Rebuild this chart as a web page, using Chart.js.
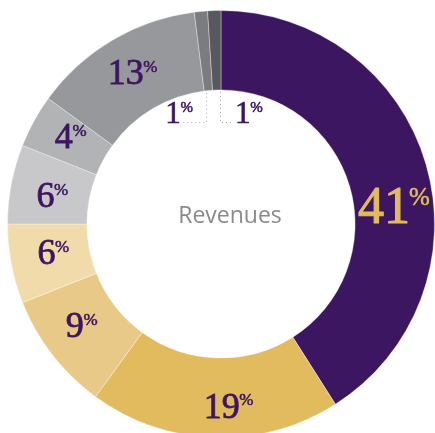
<!DOCTYPE html>
<html>
<head>
<meta charset="utf-8">
<script src="https://cdn.jsdelivr.net/npm/chart.js@4.4.1/dist/chart.umd.min.js"></script>
<style>
    html, body { margin: 0; padding: 0; background: #ffffff; overflow: hidden; width: 435px; height: 433px; }
    #wrap { position: absolute; left: 7px; top: 10px; width: 428px; height: 428px; }
</style>
</head>
<body>
<div id="wrap"><canvas id="revenue-chart" width="428" height="428"></canvas></div>
<script>
// Данные
const categories = ['Source 1', 'Source 2', 'Source 3', 'Source 4', 'Source 5', 'Source 6', 'Source 7', 'Source 8', 'Source 9'];
const shares = [41, 19, 9, 6, 6, 4, 13, 1, 1];
const centerTitle = 'Revenues';

// Оформление
const sliceColors = ['#3c1661', '#e2bb5f', '#e9c987', '#f1dbab', '#c8c8ca', '#b2b3b5', '#97989b', '#7b7c80', '#58595d'];
const labelColors = ['#e2bb5f', '#3c1661', '#3c1661', '#3c1661', '#3c1661', '#3c1661', '#3c1661', '#3c1661', '#3c1661'];
const labelSizes = [52, 36, 36, 36, 36, 36, 36, 31, 31];
const labelNudge = [[6, 30], [13, 8], [-2, -5], [3, -4], [2, 4], [2, -4], [0, -2], [0, 0], [0, 0]];
// выноски для маленьких долей (смещения от центра круга)
const callouts = {
    7: {vx: -15, hy: -102, hx: -38, tx: -41.5, align: 'right'},
    8: {vx: -1, hy: -102, hx: 11, tx: 14, align: 'left'}
};

const serif = '"Liberation Serif", "DejaVu Serif", serif';

function drawPercent(ctx, text, size, color, x, baseline, align) {
    const pctSize = Math.round(size * 0.48);
    ctx.font = size + 'px ' + serif;
    const w = ctx.measureText(text).width - size * 0.04;
    ctx.font = pctSize + 'px ' + serif;
    const pw = ctx.measureText('%').width;
    let left;
    if (align === 'right') left = x - w;
    else if (align === 'left') left = x;
    else left = x - (w + pw + 1) / 2;
    ctx.fillStyle = color;
    ctx.strokeStyle = color;
    ctx.lineJoin = 'round';
    ctx.textAlign = 'left';
    ctx.textBaseline = 'alphabetic';
    ctx.font = size + 'px ' + serif;
    ctx.lineWidth = size * 0.022;
    ctx.fillText(text, left, baseline);
    ctx.strokeText(text, left, baseline);
    ctx.font = pctSize + 'px ' + serif;
    ctx.lineWidth = 0.5;
    const py = baseline - size * 0.66 + pctSize * 0.66;
    ctx.fillText('%', left + w + 1, py);
    ctx.strokeText('%', left + w + 1, py);
}

const labelPlugin = {
    id: 'labelPlugin',
    afterDatasetsDraw(chart) {
        const ctx = chart.ctx;
        const arcs = chart.getDatasetMeta(0).data;
        ctx.save();
        arcs.forEach((arc, i) => {
            const p = arc.getProps(['x', 'y', 'startAngle', 'endAngle', 'innerRadius', 'outerRadius'], true);
            const size = labelSizes[i];
            const text = String(shares[i]);
            const c = callouts[i];
            if (c) {
                // пунктирная выноска
                const innerY = p.y - Math.sqrt(p.innerRadius * p.innerRadius - c.vx * c.vx);
                ctx.save();
                ctx.strokeStyle = '#a9a9ab';
                ctx.lineWidth = 1;
                ctx.setLineDash([1, 3]);
                ctx.beginPath();
                ctx.moveTo(p.x + c.vx + 0.5, innerY + 2);
                ctx.lineTo(p.x + c.vx + 0.5, p.y + c.hy + 0.5);
                ctx.lineTo(p.x + c.hx, p.y + c.hy + 0.5);
                ctx.stroke();
                ctx.restore();
                drawPercent(ctx, text, size, labelColors[i], p.x + c.tx, p.y + c.hy + 1, c.align);
                return;
            }
            const mid = (p.startAngle + p.endAngle) / 2;
            const r = (p.innerRadius + p.outerRadius) / 2;
            const cx = p.x + Math.cos(mid) * r + labelNudge[i][0];
            const cy = p.y + Math.sin(mid) * r + labelNudge[i][1];
            drawPercent(ctx, text, size, labelColors[i], cx, cy + size * 0.33, 'center');
        });
        // подпись в центре
        const a = arcs[0];
        ctx.fillStyle = '#8a8a8d';
        ctx.font = '23px "Open Sans", sans-serif';
        ctx.textAlign = 'center';
        ctx.textBaseline = 'alphabetic';
        ctx.fillText(centerTitle, a.x + 9, a.y - 1);
        ctx.restore();
    }
};

new Chart(document.getElementById('revenue-chart'), {
    type: 'doughnut',
    data: {
        labels: categories,
        datasets: [{
            data: shares,
            backgroundColor: sliceColors,
            borderWidth: 1,
            borderColor: 'rgba(255,255,255,0.35)'
        }]
    },
    options: {
        responsive: false,
        animation: false,
        cutout: '62.8%',
        layout: {padding: 0},
        plugins: {
            legend: {display: false},
            tooltip: {enabled: false}
        }
    },
    plugins: [labelPlugin]
});
</script>
</body>
</html>
